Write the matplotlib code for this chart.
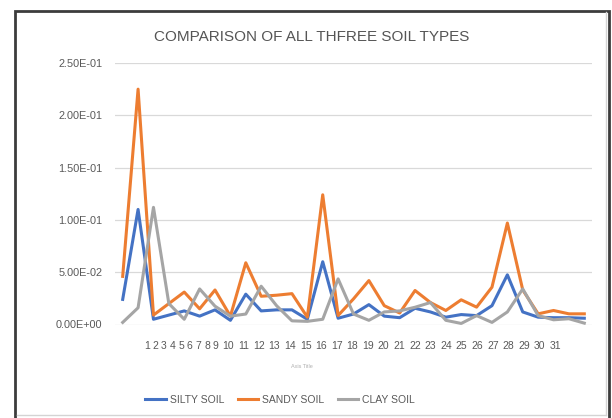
import matplotlib
matplotlib.use("Agg")
import matplotlib.pyplot as plt
from matplotlib.patches import Rectangle
from matplotlib.lines import Line2D
import numpy as np

# Chart data
days = [str(i) for i in range(1, 32)]
silty = [0.024, 0.110, 0.005, 0.009, 0.013, 0.008, 0.014, 0.004, 0.029, 0.013,
         0.014, 0.014, 0.005, 0.060, 0.006, 0.010, 0.019, 0.008, 0.0065, 0.0155,
         0.012, 0.007, 0.0095, 0.0085, 0.018, 0.0475, 0.012, 0.007, 0.0065, 0.0065,
         0.006]
sandy = [0.046, 0.225, 0.009, 0.020, 0.031, 0.015, 0.033, 0.008, 0.059, 0.027,
         0.028, 0.0295, 0.007, 0.124, 0.0086, 0.0245, 0.042, 0.018, 0.011, 0.0325,
         0.021, 0.0134, 0.0236, 0.0166, 0.0357, 0.097, 0.033, 0.0102, 0.0134, 0.0102,
         0.0102]
clay = [0.002, 0.016, 0.112, 0.020, 0.005, 0.034, 0.0175, 0.008, 0.010, 0.0366,
        0.018, 0.0035, 0.003, 0.005, 0.0436, 0.010, 0.004, 0.012, 0.013, 0.0165,
        0.021, 0.004, 0.001, 0.0085, 0.002, 0.012, 0.034, 0.0085, 0.0045, 0.0055,
        0.0013]
yticks = [0.0, 0.05, 0.10, 0.15, 0.20, 0.25]

TXT = '#595959'
FONT = 'Liberation Sans'
NARROW = ['Liberation Sans Narrow', 'Liberation Sans']

W, H = 612, 418
fig = plt.figure(figsize=(W / 100, H / 100), dpi=100)
fig.patch.set_facecolor('white')

# outer screenshot frame
fig.add_artist(Rectangle((15 / W, -0.05), (609 - 15) / W, 1.05 - 10.5 / H,
                         transform=fig.transFigure, fill=False,
                         edgecolor='#3c3c3c', lw=2.0))
fig.add_artist(Line2D([17 / W, 606 / W], [1 - 415 / H] * 2,
                      transform=fig.transFigure, color='#d4d4d4', lw=1.0))
fig.add_artist(Line2D([605.5 / W] * 2, [1 - 415 / H, 1 - 12 / H],
                      transform=fig.transFigure, color='#d4d4d4', lw=1.0))

ax = fig.add_axes([115 / W, 1 - 324.5 / H, (592 - 115) / W, (324.5 - 63) / H])
x = np.arange(len(days))
ax.plot(x, silty, color='#4472C4', lw=2.2, label='SILTY SOIL')
ax.plot(x, sandy, color='#ED7D31', lw=2.2, label='SANDY SOIL')
ax.plot(x, clay, color='#A5A5A5', lw=2.2, label='CLAY SOIL')

ax.set_xlim(-0.5, len(days) - 0.5)
ax.set_ylim(0, 0.25)
ax.set_yticks(yticks)
ax.set_yticklabels(['%.2E' % v for v in yticks], fontsize=7.8, color=TXT, family=FONT)
ax.yaxis.grid(True, color='#d9d9d9', lw=0.9)
ax.set_axisbelow(True)
for s in ax.spines.values():
    s.set_visible(False)
ax.tick_params(length=0)
ax.tick_params(axis='y', pad=9)

# category labels are packed like a text run in the reference
step = 477 / len(days)
digit, gap = 7.0 / step, 1.6 / step
left = (143.3 - 115) / step - 0.5
pos = []
for lab in days:
    w = digit * len(lab)
    pos.append(left + w / 2)
    left += w + gap
ax.set_xticks(pos)
ax.set_xticklabels(days, fontsize=7.5, color=TXT, family=FONT)
ax.tick_params(axis='x', pad=12)

fig.text(311.5 / W, 1 - 37 / H, 'COMPARISON OF ALL THFREE SOIL TYPES',
         ha='center', va='center', fontsize=11, color='#555555', family=FONT)
fig.text(302 / W, 1 - 367 / H, 'Axis Title', ha='center', va='center',
         fontsize=4, color='#b0b0b0', family=FONT)

fig.legend(loc='center', bbox_to_anchor=(280 / W, 1 - 400 / H), ncol=3,
           frameon=False, handlelength=2.0, handletextpad=0.35,
           columnspacing=1.3, prop={'family': NARROW, 'size': 7.5},
           labelcolor=TXT)

fig.savefig('out.png', dpi=100, facecolor='white')
